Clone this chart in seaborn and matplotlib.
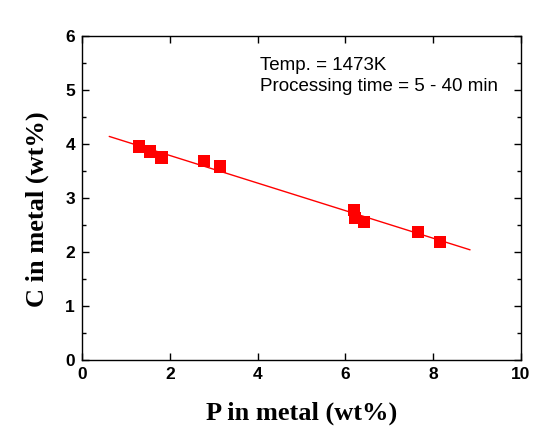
import matplotlib
matplotlib.use('Agg')
import matplotlib.pyplot as plt
import numpy as np
import pandas as pd
import seaborn as sns
from matplotlib.ticker import MultipleLocator

# measured points
p_metal = [1.30, 1.55, 1.81, 2.78, 3.14, 6.20, 6.22, 6.43, 7.65, 8.15]
c_metal = [3.95, 3.86, 3.75, 3.68, 3.58, 2.78, 2.63, 2.56, 2.37, 2.19]

# fitted line end points
fit_p = [0.62, 8.84]
fit_c = [4.14, 2.04]

x_ticks = [0, 2, 4, 6, 8, 10]
y_ticks = [0, 1, 2, 3, 4, 5, 6]

sns.set_style('ticks')
plt.rcParams['font.family'] = ['Liberation Sans', 'DejaVu Sans']
plt.rcParams['text.color'] = 'black'
plt.rcParams['axes.labelcolor'] = 'black'

pts = pd.DataFrame({'P': p_metal, 'C': c_metal})
fit = pd.DataFrame({'P': fit_p, 'C': fit_c})

fig = plt.figure(figsize=(5.53, 4.41), dpi=100)
ax = fig.add_axes([0.1483, 0.1837, 0.7938, 0.7347])

sns.lineplot(fit, x='P', y='C', color='#ff0000', linewidth=1.0, ax=ax)
sns.scatterplot(pts, x='P', y='C', color='#ff0000', marker='s', s=80,
                edgecolor='none', ax=ax, zorder=3)

ax.set_xlim(0, 10)
ax.set_ylim(0, 6)
ax.set_xticks(x_ticks)
ax.set_yticks(y_ticks)
ax.yaxis.set_minor_locator(MultipleLocator(0.5))
ax.tick_params(axis='both', which='both', direction='in', top=True, right=True,
               width=1.0, colors='black', labelcolor='black')
ax.tick_params(axis='both', which='major', length=5, labelsize=12.5, pad=5)
ax.tick_params(axis='both', which='minor', length=3)
for lab in ax.get_xticklabels() + ax.get_yticklabels():
    lab.set_fontweight('bold')
for sp in ax.spines.values():
    sp.set_linewidth(1.0)
    sp.set_color('black')

ax.set_xlabel('P in metal (wt%)', fontsize=19, fontweight='bold',
              family='Liberation Serif', labelpad=14)
ax.set_ylabel('C in metal (wt%)', fontsize=19, fontweight='bold',
              family='Liberation Serif')
ax.yaxis.set_label_coords(-0.075, 0.466)

ax.text(0.405, 0.935, 'Temp. = 1473K\nProcessing time = 5 - 40 min',
        transform=ax.transAxes, fontsize=13.5, va='top', ha='left',
        linespacing=1.3)

fig.savefig('out.png', dpi=100)
